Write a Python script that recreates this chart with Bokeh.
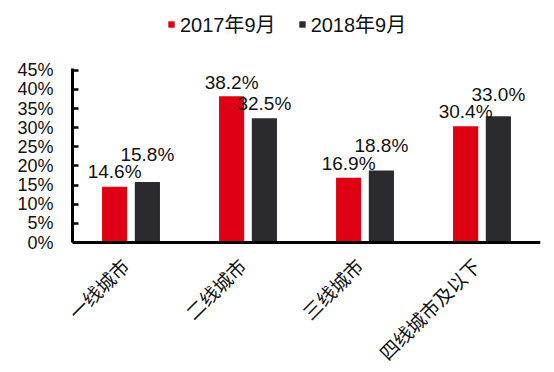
import math
from bokeh.plotting import figure
from bokeh.models import ColumnDataSource, FactorRange, Range1d, Legend, LegendItem, FixedTicker, Span
from bokeh.transform import dodge
from bokeh.core.properties import value
from bokeh.embed import file_html
from bokeh.resources import INLINE

categories = ["一线城市", "二线城市", "三线城市", "四线城市及以下"]
series_names = ["2017年9月", "2018年9月"]
share_2017 = [14.6, 38.2, 16.9, 30.4]
share_2018 = [15.8, 32.5, 18.8, 33.0]
y_tick_values = [0, 5, 10, 15, 20, 25, 30, 35, 40, 45]
y_tick_labels = ["0%", "5%", "10%", "15%", "20%", "25%", "30%", "35%", "40%", "45%"]

# label lift (screen px) above bar tops, as placed in the original
lift_2017 = [15, 14, 14, 15]
lift_2018 = [28, 15, 25, 22]

RED = "#DF0014"
DARK = "#2B2B2F"
LATIN = "Liberation Sans"
CJK = "Noto Sans CJK SC"

# The frame covers the whole figure height so that the legend (top) and the
# rotated category labels (bottom) can be drawn inside it; the y axis line is
# bounded to the 0-45% band and the baseline is a span at 0.
FRAME_H = 366
ZERO_PX = 242          # screen y of the 0% line
PPU = 176 / 46         # pixels per percentage point
Y_END = ZERO_PX / PPU
Y_START = -(FRAME_H - ZERO_PX) / PPU

src = ColumnDataSource(data=dict(
    cat=categories,
    a=share_2017,
    b=share_2018,
    base=[0] * len(categories),
    a_lbl=[f"{v:.1f}%" for v in share_2017],
    b_lbl=[f"{v:.1f}%" for v in share_2018],
    a_off=[-v for v in lift_2017],
    b_off=[-v for v in lift_2018],
))

p = figure(
    x_range=FactorRange(*categories, range_padding=0),
    y_range=Range1d(Y_START, Y_END),
    frame_width=468, frame_height=FRAME_H,
    min_border_left=72, min_border_right=8, min_border_top=0, min_border_bottom=0,
    output_backend="svg", toolbar_location=None,
)
p.outline_line_color = None
p.xgrid.visible = False
p.ygrid.visible = False
p.background_fill_color = "white"
p.border_fill_color = "white"
p.xaxis.visible = False

bw = 0.215
off = 0.14
r1 = p.vbar(x=dodge("cat", -off, range=p.x_range), top="a", bottom="base", width=bw, source=src,
            fill_color=RED, line_color=None)
r2 = p.vbar(x=dodge("cat", off, range=p.x_range), top="b", bottom="base", width=bw, source=src,
            fill_color=DARK, line_color=None)

p.text(x=dodge("cat", -off, range=p.x_range), y="a", text="a_lbl", y_offset="a_off", source=src,
       text_align="center", text_baseline="alphabetic", text_font=value(LATIN),
       text_font_size="19px", text_color="#111111")
p.text(x=dodge("cat", off, range=p.x_range), y="b", text="b_lbl", y_offset="b_off", source=src,
       text_align="center", text_baseline="alphabetic", text_font=value(LATIN),
       text_font_size="19px", text_color="#111111")

# baseline (x axis line)
p.add_layout(Span(location=0, dimension="width", line_color="black", line_width=3))

# rotated category labels, ending at each category centre
p.text(x="cat", y="base", text="cat", source=src, angle=math.pi / 4,
       x_offset=-6, y_offset=19, text_align="right", text_baseline="middle",
       text_font=value(CJK), text_font_size="19px", text_color="#111111")

# y axis
ya = p.yaxis[0]
ya.ticker = FixedTicker(ticks=y_tick_values)
ya.bounds = (0, 45.5)
ya.major_label_overrides = {v: l for v, l in zip(y_tick_values, y_tick_labels)}
ya.major_label_text_font = LATIN
ya.major_label_text_font_size = "18px"
ya.major_label_text_color = "#111111"
ya.axis_line_width = 3
ya.axis_line_color = "black"
ya.major_tick_in = 6
ya.major_tick_out = 0
ya.major_tick_line_width = 2.5
ya.major_tick_line_color = "black"
ya.minor_tick_line_color = None
ya.major_label_standoff = 19

legend = Legend(
    items=[LegendItem(label=series_names[0], renderers=[r1]),
           LegendItem(label=series_names[1], renderers=[r2])],
    orientation="horizontal",
    location=(95, FRAME_H - 38),
    glyph_width=8, glyph_height=8,
    label_standoff=5, spacing=22, padding=0, margin=0,
    label_text_font=f"{LATIN}, {CJK}", label_text_font_size="20px",
    label_text_color="#111111",
    border_line_color=None, background_fill_alpha=0,
)
p.add_layout(legend, "center")

open("out.html", "w").write(file_html(p, INLINE))
